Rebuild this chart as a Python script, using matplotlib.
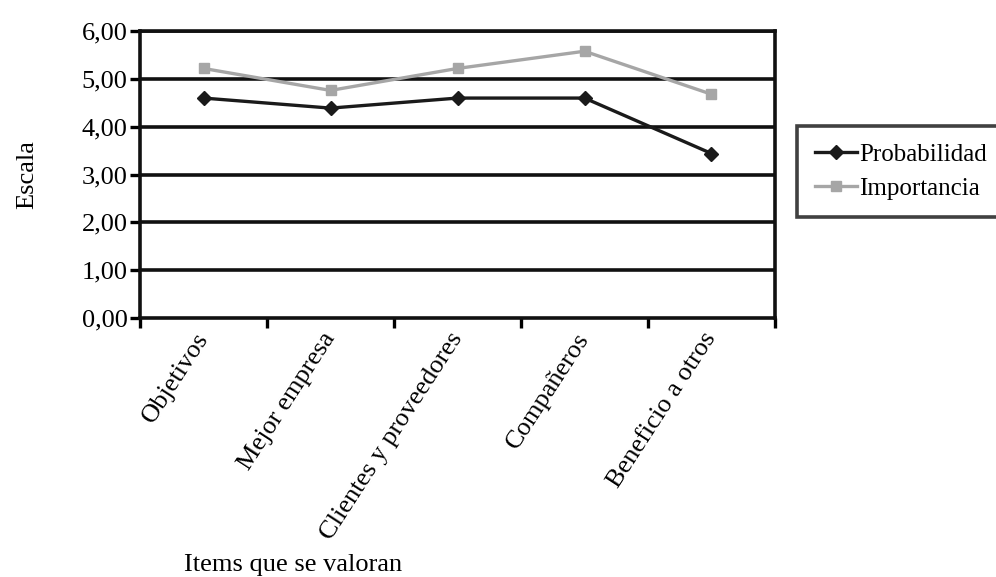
import matplotlib
matplotlib.use("Agg")
import matplotlib.pyplot as plt
import numpy as np

categories = ["Objetivos", "Mejor empresa", "Clientes y proveedores", "Compañeros", "Beneficio a otros"]
probabilidad = [4.60, 4.39, 4.60, 4.60, 3.44]
importancia = [5.22, 4.76, 5.22, 5.58, 4.68]
y_ticks = [0, 1, 2, 3, 4, 5, 6]
y_tick_labels = ["0,00", "1,00", "2,00", "3,00", "4,00", "5,00", "6,00"]

plt.rcParams["font.family"] = ["Liberation Serif", "DejaVu Serif"]
FS = 19

fig = plt.figure(figsize=(9.96, 5.77), dpi=100)
ax = fig.add_axes([0.1406, 0.449, 0.6375, 0.497])

x = np.arange(len(categories))
ax.plot(x, importancia, color="#a6a6a6", lw=2.4, marker="s", ms=7, label="Importancia", zorder=3)
ax.plot(x, probabilidad, color="#1a1a1a", lw=2.4, marker="D", ms=7,
        markerfacecolor="#1a1a1a", label="Probabilidad", zorder=4)

ax.set_xlim(-0.5, len(categories) - 0.5)
ax.set_ylim(0, 6)
ax.set_yticks(y_ticks)
ax.set_yticklabels(y_tick_labels, fontsize=FS)
for y in y_ticks[1:]:
    ax.axhline(y, color="#111111", lw=2.6, zorder=1)

# Category ticks on the boundaries, labels at the centres
ax.set_xticks(np.arange(-0.5, len(categories) + 0.5, 1.0))
ax.set_xticklabels([])
ax.set_xticks(x, minor=True)
ax.set_xticklabels(categories, minor=True, rotation=57, ha="right", va="center",
                   rotation_mode="anchor", fontsize=FS)
ax.tick_params(axis="x", which="minor", length=0, pad=12)
ax.tick_params(axis="x", which="major", length=7, width=2.4, direction="out")
ax.tick_params(axis="y", length=7, width=2.4, direction="out", pad=2)

for s in ax.spines.values():
    s.set_linewidth(2.6)
    s.set_color("#111111")

fig.text(27 / 996, 1 - 175 / 577, "Escala", rotation=90, ha="center", va="center", fontsize=FS)
fig.text(293 / 996, 1 - 565 / 577, "Items que se valoran", ha="center", va="center", fontsize=FS)

handles, labels = ax.get_legend_handles_labels()
leg = fig.legend(handles[::-1], labels[::-1], loc="upper left",
                 bbox_to_anchor=(797 / 996, 1 - 126 / 577), fontsize=18,
                 frameon=True, fancybox=False, handlelength=1.7, handletextpad=0.1,
                 borderpad=0.7, labelspacing=0.45, borderaxespad=0)
leg.get_frame().set_edgecolor("#111111")
leg.get_frame().set_linewidth(2.6)

fig.savefig("out.png", dpi=100)
